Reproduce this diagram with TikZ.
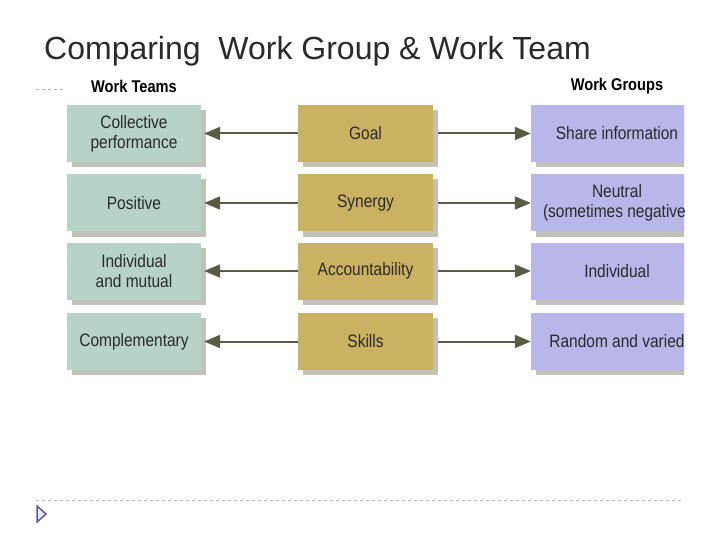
\documentclass[tikz,border=0pt]{standalone}
\usepackage{fontspec}
\setmainfont{Liberation Sans}
\newfontfamily\narrowf[FakeStretch=0.86]{Liberation Sans}
\usetikzlibrary{arrows.meta}
\definecolor{teal}{HTML}{B7D3C7}
\definecolor{gold}{HTML}{CBB262}
\definecolor{lav}{HTML}{B9B6EA}
\definecolor{arr}{HTML}{5B5B45}
\definecolor{shad}{HTML}{9A9A8C}
\definecolor{txt}{HTML}{2A2A2A}
\tikzset{
 bx/.style={minimum height=57pt,align=center,text=txt,font=\narrowf\fontsize{18}{20}\selectfont,inner sep=0pt,
   preaction={fill=shad!60,transform canvas={xshift=5pt,yshift=-5pt}}},
 lb/.style={bx,fill=teal,minimum width=134pt},
 mb/.style={bx,fill=gold,minimum width=135pt},
 rb/.style={bx,fill=lav,minimum width=172pt},
 ar/.style={draw=arr,line width=2pt,-{Triangle[length=16pt,width=13pt]}},
 hd/.style={font=\narrowf\bfseries\fontsize{17}{20}\selectfont}
}
\begin{document}
\begin{tikzpicture}[x=1pt,y=-1pt]
\useasboundingbox (0,0) rectangle (720,540);
\node[anchor=base west,inner sep=0pt,font=\fontsize{32}{36}\selectfont,text=txt] (title) at (44,60) {Comparing\ \ Work Group \& Work Team};
\node[hd] (ht) at (134,86) {Work Teams};
\node[hd] (hg) at (617,86) {Work Groups};
\coordinate (d1) at (36,89); \coordinate (d2) at (66,89);
\draw[gray!60,dashed] (d1) -- (d2);
\coordinate (d3) at (36,500); \coordinate (d4) at (684,500);
\draw[gray!60,dashed] (d3) -- (d4);
\coordinate (t1) at (37,506); \coordinate (t2) at (37,522); \coordinate (t3) at (46,514);
\draw[draw=gray!70!blue,fill=gray!15,line width=1.5pt] (t1) -- (t2) -- (t3) -- cycle;
\foreach \i/\y/\l/\m/\r in {1/133.5/{Collective\\performance}/Goal/Share information,
  2/203/Positive/Synergy/{Neutral\\(sometimes negative)},
  3/271/{Individual\\and mutual}/Accountability/Individual,
  4/341.5/Complementary/Skills/Random and varied}{
  \node[lb] (L\i) at (134,\y) {\l};
  \node[mb] (M\i) at (365.5,\y) {\m};
  \begin{scope}
  \clip (500,0) rectangle (684,540);
  \node[rb] (R\i) at (617,\y) {\r};
  \end{scope}
  \draw[ar] (M\i.west) -- ([xshift=3pt]L\i.east);
  \draw[ar] ([xshift=5pt]M\i.east) -- (R\i.west);
}
\end{tikzpicture}
\end{document}
